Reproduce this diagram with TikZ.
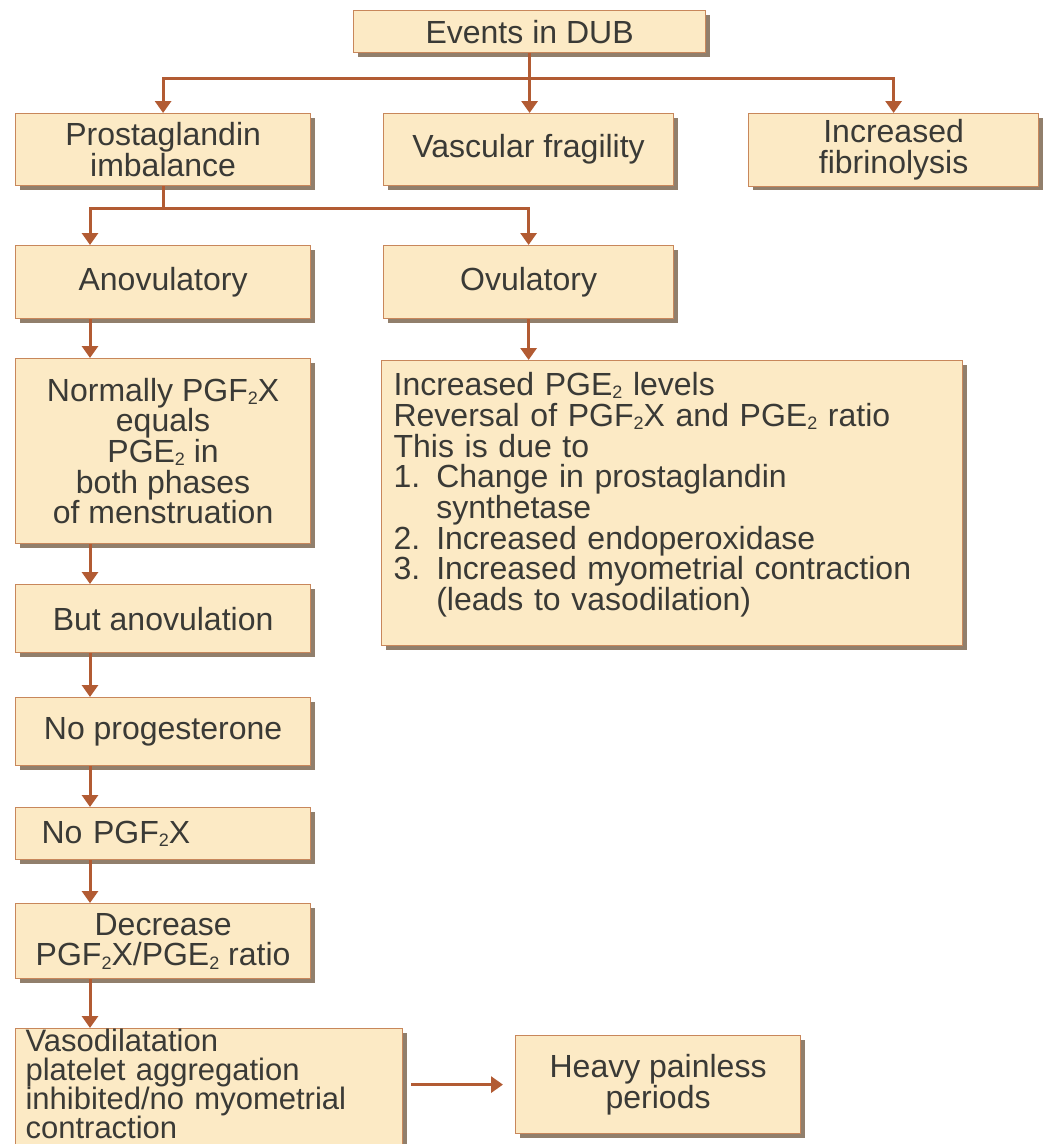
\documentclass[tikz,border=0pt]{standalone}
\usepackage{fontspec}
\setmainfont{Liberation Sans}
\usetikzlibrary{arrows.meta,shadows}

\definecolor{boxfill}{HTML}{FCEAC5}
\definecolor{boxline}{HTML}{C8875B}
\definecolor{boxshade}{HTML}{917F6C}
\definecolor{flowline}{HTML}{B25B33}
\definecolor{ink}{HTML}{3A3A36}

% small lowered 2 of PGF2X and PGE2
\newcommand{\subtwo}{\raisebox{-0.1em}{\fontsize{18}{18}\selectfont 2}}

\tikzset{
  box/.style={draw=boxline, line width=1.2pt, fill=boxfill, text=ink, anchor=north west,
    drop shadow={shadow xshift=4pt, shadow yshift=-4pt, fill=boxshade, opacity=1},
    font={\fontsize{32}{30.7}\selectfont\lineskiplimit=-10pt\relax}, align=center, inner sep=6pt},
  leftbox/.style={box, align=left},
  flow/.style={draw=flowline, line width=3pt, -{Triangle[width=16pt,length=12pt]}}
}

\begin{document}
\begin{tikzpicture}[x=1pt,y=-1pt]
  \useasboundingbox (0,0) rectangle (1043,1144);
  \clip (0,0) rectangle (1043,1144);
  \coordinate (col) at (90,0);
  % top of the chart
  \node[box, minimum width=352pt, minimum height=42pt] (dub) at (353,10) {Events in DUB};
  % the three causes
  \node[box, minimum width=295pt, minimum height=72pt] (pg) at (15,113) {Prostaglandin\\imbalance};
  \node[box, minimum width=290pt, minimum height=72pt] (vf) at (383,113) {Vascular fragility};
  \node[box, minimum width=290pt, minimum height=72pt] (fib) at (748,113) {Increased\\fibrinolysis};
  % two kinds of cycle
  \node[box, minimum width=295pt, minimum height=73pt] (ano) at (15,245) {Anovulatory};
  \node[box, minimum width=290pt, minimum height=73pt] (ovu) at (383,245) {Ovulatory};
  % ovulatory branch
  \node[leftbox, text width=557pt, inner sep=12pt, text depth=238pt] (big) at (381,360)
    {Increased PGE\subtwo\ levels\\
     Reversal of PGF\subtwo X and PGE\subtwo\ ratio\\
     This is due to\\
     1. Change in prostaglandin\\
     \hphantom{1. }synthetase\\
     2. Increased endoperoxidase\\
     3. Increased myometrial contraction\\
     \hphantom{3. }(leads to vasodilation)};
  % anovulatory branch
  \node[box, minimum width=295pt, minimum height=185pt] (norm) at (15,358)
    {Normally PGF\subtwo X\\equals\\PGE\subtwo\ in\\both phases\\of menstruation};
  \node[box, minimum width=295pt, minimum height=68pt] (but) at (15,584) {But anovulation};
  \node[box, minimum width=295pt, minimum height=68pt] (noprog) at (15,697) {No progesterone};
  \node[leftbox, text width=243pt, inner xsep=26pt, minimum height=52pt] (nopgf) at (15,807)
    {No PGF\subtwo X};
  \node[box, minimum width=295pt, minimum height=75pt] (dec) at (15,903)
    {Decrease\\PGF\subtwo X/PGE\subtwo\ ratio};
  \node[leftbox, text width=367pt, inner xsep=10pt, inner ysep=0pt, text depth=110pt,
        font={\fontsize{31}{29.3}\selectfont\lineskiplimit=-10pt\relax}] (vaso) at (15,1028)
    {Vasodilatation\\platelet aggregation\\inhibited/no myometrial\\contraction};
  \node[box, minimum width=285pt, minimum height=98pt] (heavy) at (515,1035) {Heavy painless\\periods};
  % arrows
  \draw[flow] (dub.south) -- ++(0,25) -| (pg.north);
  \draw[flow] (dub.south) -- ++(0,25) -| (fib.north);
  \draw[flow] (dub.south) -- (dub.south |- vf.north);
  \draw[flow] (pg.south) -- ++(0,22) -| (col |- ano.north);
  \draw[flow] (pg.south) -- ++(0,22) -| (ovu.north);
  \draw[flow] (ovu.south) -- (ovu.south |- big.north);
  \draw[flow] (col |- ano.south) -- (col |- norm.north);
  \draw[flow] (col |- norm.south) -- (col |- but.north);
  \draw[flow] (col |- but.south) -- (col |- noprog.north);
  \draw[flow] (col |- noprog.south) -- (col |- nopgf.north);
  \draw[flow] (col |- nopgf.south) -- (col |- dec.north);
  \draw[flow] (col |- dec.south) -- (col |- vaso.north);
  \draw[flow, shorten <=8pt, shorten >=12pt] (vaso.east |- heavy.west) -- (heavy.west);
\end{tikzpicture}
\end{document}
